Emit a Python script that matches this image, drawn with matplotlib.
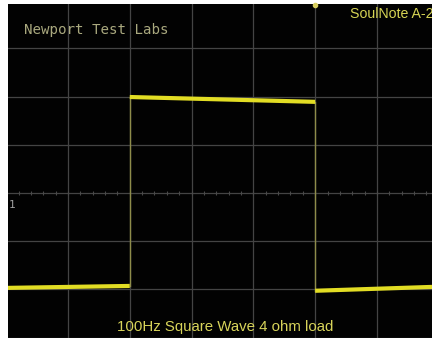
import numpy as np
import matplotlib.pyplot as plt

# scope screen in divisions (x: time div, y: volt div, 0 = centre line)
edge_times = [2.0, 5.0]                 # rising edge, falling edge
seg_start = [0.03, 2.0, 5.0]
seg_end = [2.0, 5.0, 6.89]
level_start = [-1.97, 1.99, -2.03]      # level at segment start
level_end = [-1.93, 1.89, -1.95]        # level at segment end (tilt)

title_left = "Newport Test Labs"
title_right = "SoulNote A-2"
caption = "100Hz Square Wave 4 ohm load"

X_LIM = (0.03, 6.89)
Y_LIM = (-3.01, 3.92)

fig = plt.figure(figsize=(4.32, 3.38), dpi=100, facecolor="white")
ax = fig.add_axes([8 / 432, 0, 424 / 432, 334 / 338])
ax.set_facecolor("#020202")
ax.set_xlim(*X_LIM)
ax.set_ylim(*Y_LIM)

# graticule
for gx in range(1, 7):
    ax.axvline(gx, color="#444444", lw=0.9, zorder=1)
for gy in range(-3, 4):
    ax.axhline(gy, color="#444444", lw=0.9, zorder=1)
minor = np.arange(0, 7.01, 0.2)
ax.plot(minor, np.zeros_like(minor), ls="none", marker="|", ms=2.5,
        mew=0.8, color="#4a4a4a", zorder=1)

# square wave trace
for x0, x1, y0, y1 in zip(seg_start, seg_end, level_start, level_end):
    ax.plot([x0, x1], [y0, y1], color="#e2dd24", lw=3.0,
            solid_capstyle="butt", zorder=3)
for i, t in enumerate(edge_times):
    ax.plot([t, t], [level_end[i], level_start[i + 1]], color="#8e8c4a",
            lw=1.0, zorder=2)

# trigger marker at top
ax.plot([edge_times[1]], [Y_LIM[1] - 0.03], marker="o", ms=3.0,
        color="#d8cf60", zorder=4, clip_on=False)

ax.set_xticks([])
ax.set_yticks([])
for s in ax.spines.values():
    s.set_visible(False)

fig.text(24 / 432, 1 - 30 / 338, title_left, family="DejaVu Sans Mono",
         fontsize=10.2, color="#a9a87e", va="center", ha="left")
fig.text(433 / 432, 1 - 14 / 338, title_right, family="Liberation Sans",
         fontsize=10.2, color="#d6d454", va="center", ha="right")
fig.text(225 / 432, 1 - 327 / 338, caption, family="Liberation Sans",
         fontsize=10.8, color="#d8d45a", va="center", ha="center")
fig.text(9 / 432, 1 - 205 / 338, "1", fontsize=8, color="#a0a0a0",
         va="center", ha="left", family="DejaVu Sans Mono")

fig.savefig("out.png", dpi=100, facecolor=fig.get_facecolor())
